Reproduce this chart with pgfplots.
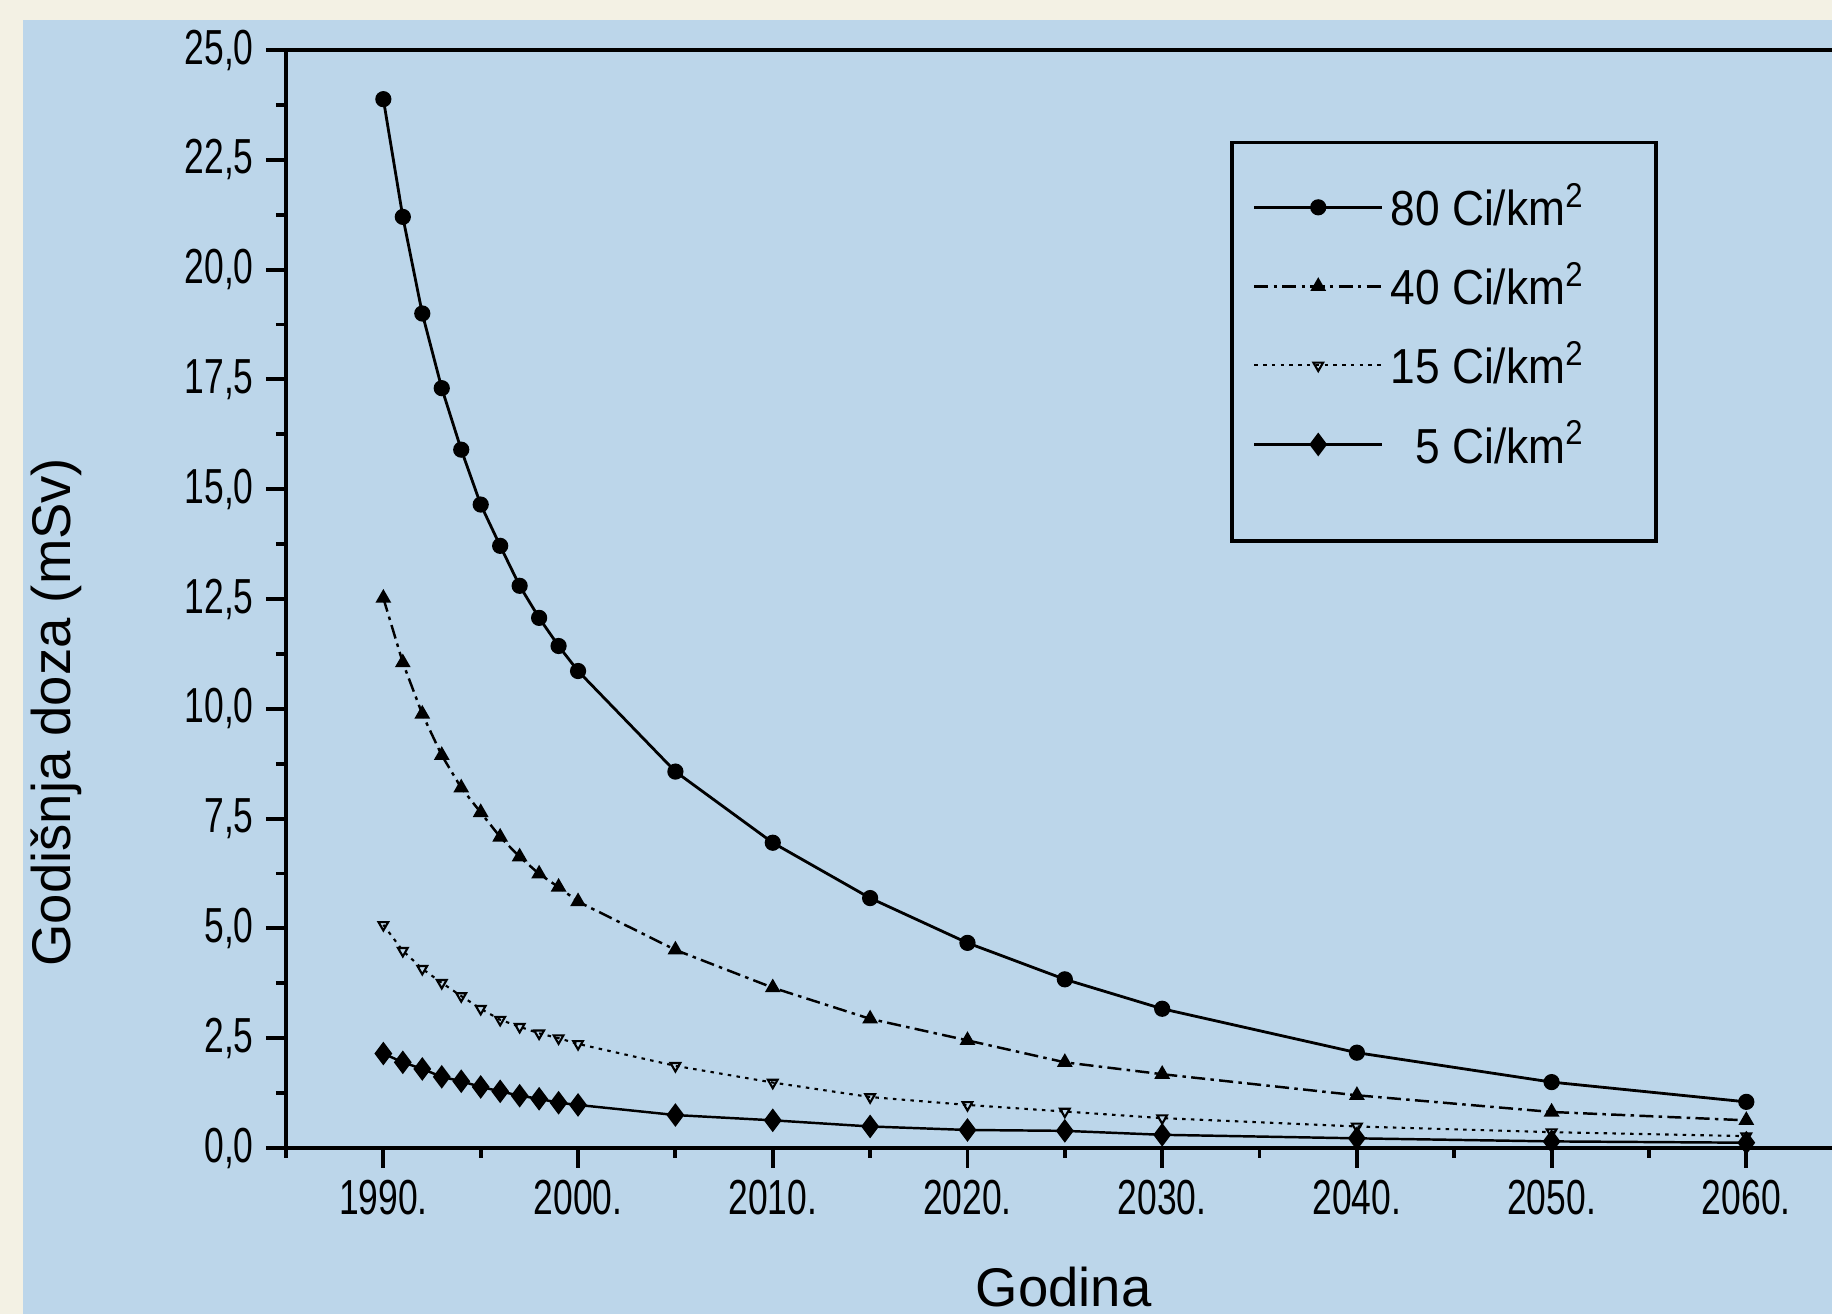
\documentclass[border=0pt]{standalone}
\usepackage{fontspec}
\setmainfont{Liberation Sans}
\newfontfamily\tickfont[FakeStretch=0.72]{Liberation Sans}
\newfontfamily\legfont[FakeStretch=0.9]{Liberation Sans}
\usepackage{pgfplots}
\pgfplotsset{compat=1.18}
\definecolor{bgblue}{HTML}{BCD6EA}
\definecolor{cream}{HTML}{F3F1E4}

\begin{document}
\begin{tikzpicture}
\path[use as bounding box, fill=cream] (-2.86,-1.66) rectangle (15.46,11.48);
\fill[bgblue] (-2.63,-1.66) rectangle (15.46,11.28);
\begin{axis}[
  at={(0,0)}, anchor=south west,
  scale only axis, width=15.46cm, height=10.98cm,
  xmin=1985, xmax=2064.4, ymin=0, ymax=25,
  axis x line*=box, axis y line*=left,
  xtick pos=left, ytick pos=left,
  tick align=outside,
  axis line style={line width=1.1pt, black},
  every tick/.style={line width=1.1pt, black},
  major tick length=0.2cm, minor tick length=0.1cm,
  xtick={1990,2000,...,2060},
  xticklabels={1990.,2000.,2010.,2020.,2030.,2040.,2050.,2060.},
  minor xtick={1985,1995,2005,2015,2025,2035,2045,2055},
  ytick={0,2.5,...,25},
  minor ytick={1.25,3.75,...,23.75},
  yticklabel style={/pgf/number format/.cd, fixed, fixed zerofill, precision=1, use comma, assume math mode=true},
  ticklabel style={font=\tickfont\fontsize{14}{16}\selectfont},
  xlabel={Godina},
  xlabel style={at={(axis description cs:0.503,-0.1445)}, anchor=base, font=\fontsize{15.5}{18}\selectfont},
  ylabel={Godišnja doza (mSv)},
  ylabel style={at={(axis description cs:-0.1488,0.397)}, anchor=center, font=\fontsize{15.5}{18}\selectfont},
  legend style={at={(rel axis cs:0.612,0.9158)}, anchor=north west, draw=none, fill=none,
    font=\legfont\fontsize{14}{16}\selectfont, row sep=0.173cm, inner xsep=0.2cm, inner ysep=0.333cm},
  legend cell align=right,
  legend image code/.code={\draw[mark repeat=2,mark phase=2,#1] plot coordinates {(0cm,0cm) (0.64cm,0cm) (1.28cm,0cm)};},
]
\addplot[black, line width=0.8pt, mark=*, mark size=1.9pt] coordinates {
(1990,23.88)(1991,21.2)(1992,19.0)(1993,17.3)(1994,15.9)(1995,14.65)(1996,13.71)(1997,12.8)(1998,12.07)(1999,11.43)(2000,10.86)(2005,8.57)(2010,6.95)(2015,5.69)(2020,4.67)(2025,3.84)(2030,3.17)(2040,2.17)(2050,1.50)(2060,1.05)};
\addlegendentry{80 Ci/km\textsuperscript{2}\hspace*{0.45cm}}
\addplot[black, line width=0.7pt, dash pattern=on 4pt off 1.5pt on 1pt off 1.5pt, mark=triangle*, mark size=1.9pt, mark options={solid}] coordinates {
(1990,12.52)(1991,11.05)(1992,9.88)(1993,8.94)(1994,8.2)(1995,7.64)(1996,7.08)(1997,6.63)(1998,6.24)(1999,5.94)(2000,5.61)(2005,4.51)(2010,3.65)(2015,2.94)(2020,2.45)(2025,1.95)(2030,1.68)(2040,1.2)(2050,0.82)(2060,0.63)};
\addlegendentry{40 Ci/km\textsuperscript{2}\hspace*{0.45cm}}
\addplot[black, line width=0.6pt, dash pattern=on 1pt off 1.5pt, mark=triangle, mark size=1.6pt, mark options={solid, rotate=180}] coordinates {
(1990,5.08)(1991,4.49)(1992,4.08)(1993,3.76)(1994,3.46)(1995,3.17)(1996,2.92)(1997,2.76)(1998,2.61)(1999,2.5)(2000,2.37)(2005,1.87)(2010,1.49)(2015,1.16)(2020,0.98)(2025,0.83)(2030,0.68)(2040,0.49)(2050,0.36)(2060,0.27)};
\addlegendentry{15 Ci/km\textsuperscript{2}\hspace*{0.45cm}}
\addplot[black, line width=0.7pt, mark=diamond*, mark size=2.8pt] coordinates {
(1990,2.15)(1991,1.95)(1992,1.8)(1993,1.62)(1994,1.52)(1995,1.39)(1996,1.29)(1997,1.19)(1998,1.12)(1999,1.03)(2000,0.98)(2005,0.75)(2010,0.63)(2015,0.49)(2020,0.41)(2025,0.39)(2030,0.30)(2040,0.22)(2050,0.15)(2060,0.12)};
\addlegendentry{5 Ci/km\textsuperscript{2}\hspace*{0.45cm}}
\draw[black, line width=1pt] (rel axis cs:0.612,0.5528) rectangle (rel axis cs:0.886,0.9158);
\end{axis}
\end{tikzpicture}
\end{document}
